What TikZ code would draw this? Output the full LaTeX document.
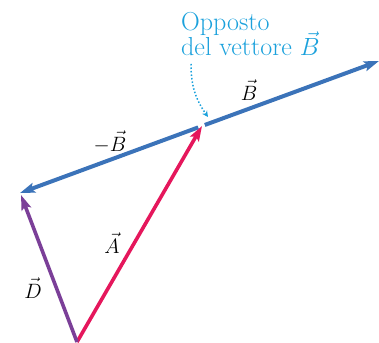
\documentclass[tikz,border=0pt]{standalone}
\usetikzlibrary{arrows.meta}
\definecolor{bluB}{HTML}{3B73B9}
\definecolor{rossoA}{HTML}{E5175C}
\definecolor{violaD}{HTML}{7B3F98}
\definecolor{azzurro}{HTML}{1BA1DC}
\begin{document}
\begin{tikzpicture}[x=1pt, y=1pt,
    vettore/.style={line width=3.6pt, -{Stealth[length=15pt, width=10pt, inset=3pt]}},
    etichetta/.style={font=\fontsize{21}{24}\selectfont, inner sep=0pt},
    nota/.style={font=\fontsize{26}{25}\selectfont, text=azzurro, inner sep=0pt, anchor=base west}]
    \useasboundingbox (0,0) rectangle (379,342);

    % Punti
    \coordinate (O) at (77,0);
    \coordinate (A) at (202,216);
    \coordinate (Bp) at (379,281);
    \coordinate (Bm) at (20,149);
    \coordinate (D) at (21,147);

    % Vettore B e opposto
    \draw[vettore, bluB, line width=4pt, shorten <=3pt] (A) -- (Bp);
    \draw[vettore, bluB, line width=4pt, shorten <=4pt] (A) -- (Bm);

    % Vettori A e D
    \draw[vettore, rossoA] (O) -- (A);
    \draw[vettore, violaD] (O) -- (D);

    % Etichette
    \node[etichetta] (labB) at (249,252) {$\vec{B}$};
    \node[etichetta] (labBm) at (110,200) {$-\vec{B}$};
    \node[etichetta] (labA) at (112,99) {$\vec{A}$};
    \node[etichetta] (labD) at (33,54) {$\vec{D}$};

    % Nota
    \node[nota] (nota1) at (181,311) {Opposto};
    \node[nota] (nota2) at (181,286) {del vettore $\vec{B}$};
    \draw[azzurro, line width=1.5pt, dotted, -{Stealth[length=6pt, width=6pt]}]
        (191,278) to[out=-90, in=125] (208,225);
\end{tikzpicture}
\end{document}
